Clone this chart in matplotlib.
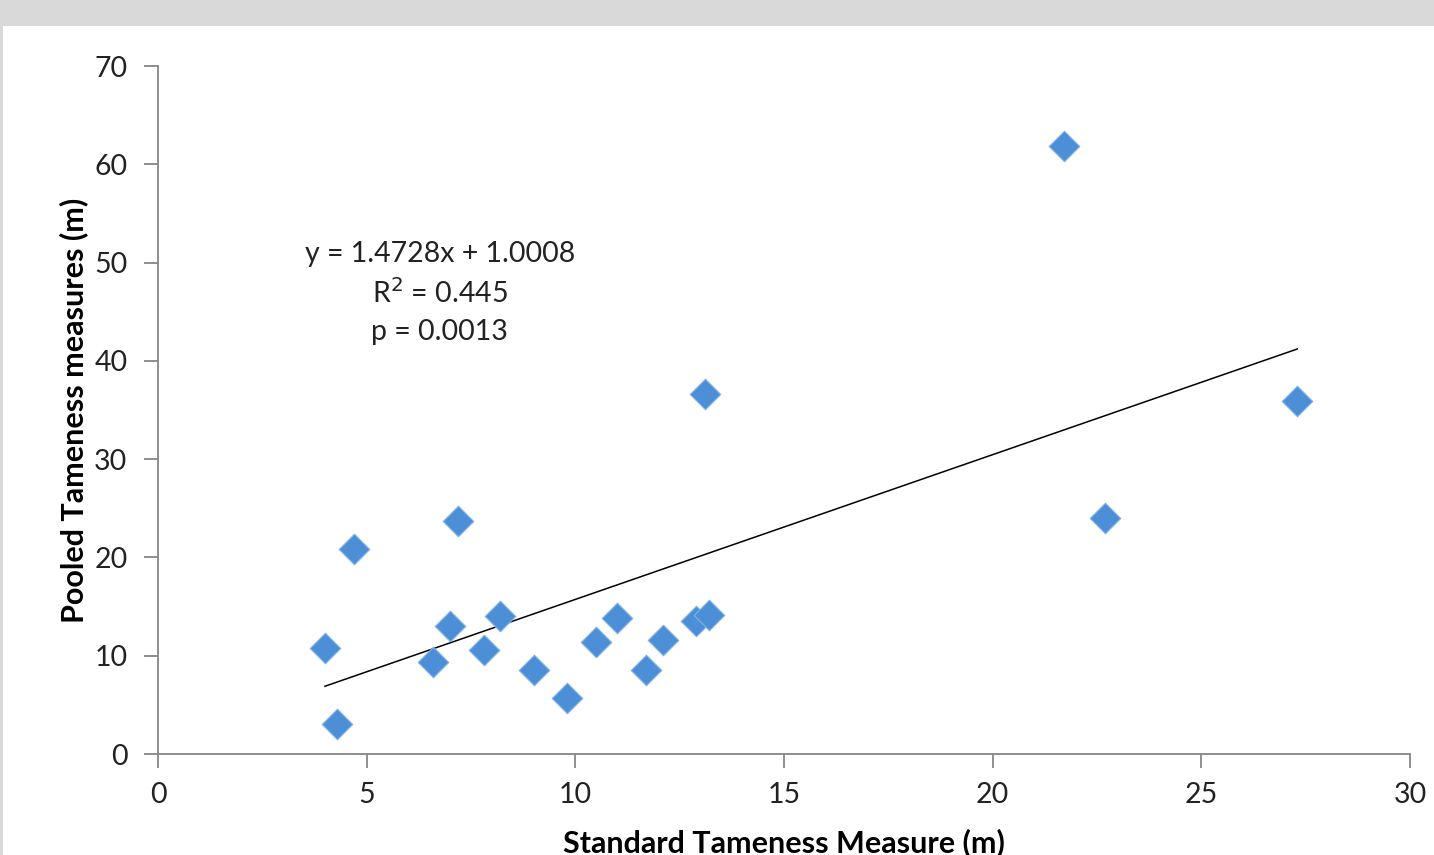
import numpy as np
import matplotlib.pyplot as plt
from matplotlib.patches import Rectangle

# standard vs pooled tameness measures (m)
standard = [4.0, 4.3, 4.7, 6.6, 7.0, 7.2, 7.8, 8.2, 9.0, 9.8,
            10.5, 11.0, 11.7, 12.1, 12.9, 13.2, 13.1, 21.7, 22.7, 27.3]
pooled = [10.8, 3.1, 20.9, 9.4, 13.0, 23.7, 10.6, 14.0, 8.5, 5.7,
          11.4, 13.8, 8.5, 11.6, 13.5, 14.1, 36.6, 61.9, 24.0, 35.9]

slope = 1.4728
intercept = 1.0008
r2 = 0.445
p_value = 0.0013

plt.rcParams['font.family'] = ['Lato', 'DejaVu Sans']

W, H = 1434, 855
fig = plt.figure(figsize=(W / 100, H / 100), dpi=100)
fig.patch.set_facecolor('#d9d9d9')
fig.patches.append(Rectangle((3 / W, 0), 1, 1 - 26 / H, transform=fig.transFigure,
                             facecolor='white', edgecolor='none', zorder=-10))

ax = fig.add_axes([158 / W, 1 - 754 / H, (1410 - 158) / W, (754 - 66) / H])
ax.set_facecolor('none')

ax.scatter(standard, pooled, marker='D', s=22 ** 2 / 2, color='#4d8fd6',
           edgecolors='#80b2e8', linewidths=0.8, zorder=3)

xs = np.array([min(standard), max(standard)])
ax.plot(xs, slope * xs + intercept, color='black', lw=1.1, zorder=2)

tx = 6.75
ax.text(tx, 50.9, "y = %.4fx + %.4f" % (slope, intercept), ha='center', va='center',
        fontsize=20.5, color='#222222')
ax.text(tx, 46.9, "R$^2$ = %.3f" % r2, ha='center', va='center', fontsize=20.5, color='#222222')
ax.text(tx, 42.9, "p = %.4f" % p_value, ha='center', va='center', fontsize=20.5, color='#222222')

ax.set_xlim(0, 30)
ax.set_ylim(0, 70)
ax.set_xticks(range(0, 31, 5))
ax.set_yticks(range(0, 71, 10))

for s in ['top', 'right']:
    ax.spines[s].set_visible(False)
for s in ['left', 'bottom']:
    ax.spines[s].set_color('#868686')
    ax.spines[s].set_linewidth(1.3)
ax.tick_params(axis='both', colors='#868686', labelcolor='#222222', labelsize=20.5,
               length=10, width=1.3)
ax.tick_params(axis='y', pad=12)
ax.tick_params(axis='x', pad=10)

ax.set_xlabel("Standard Tameness Measure (m)", fontsize=22, fontweight='bold', labelpad=15)
ax.set_ylabel("Pooled Tameness measures (m)", fontsize=22, fontweight='bold', labelpad=4)

fig.savefig('out.png', dpi=100, facecolor=fig.get_facecolor())
